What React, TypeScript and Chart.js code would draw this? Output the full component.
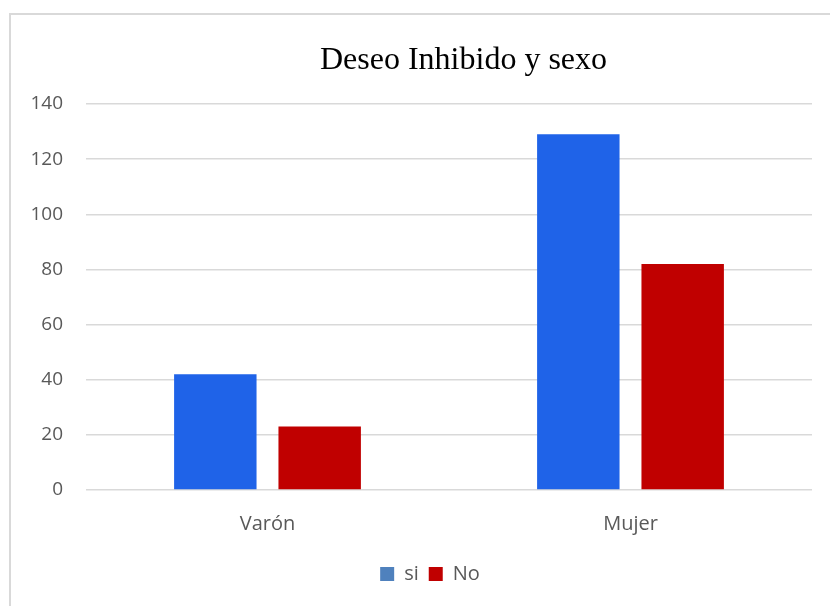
import React, { useEffect, useRef } from "react";
import { Chart, registerables } from "chart.js";

Chart.register(...registerables);

const categories = ["Varón", "Mujer"];
const seriesNames = ["si", "No"];
const siValues = [42, 129];
const noValues = [23, 82];
const yTicks = [0, 20, 40, 60, 80, 100, 120, 140];
const titleText = "Deseo Inhibido y sexo";

const titlePlugin = {
  id: "customTitle",
  afterLayout(chart: any) {
    const lg = chart.legend;
    if (lg) {
      lg.left += 18.5;
      lg.right += 18.5;
    }
  },
  afterDraw(chart: any) {
    const { ctx, chartArea } = chart;
    ctx.save();
    ctx.font = "32px 'Liberation Serif', 'Times New Roman', serif";
    ctx.fillStyle = "#000000";
    ctx.textAlign = "center";
    ctx.textBaseline = "alphabetic";
    const x = chartArea.left + (chartArea.right - chartArea.left) * 0.52;
    ctx.fillText(titleText, x, 54);
    ctx.restore();
  },
};

export default function App() {
  const ref = useRef<HTMLCanvasElement | null>(null);
  useEffect(() => {
    document.body.style.overflow = "hidden";
    if (!ref.current) return;
    const font = { family: "'Open Sans', sans-serif", size: 20 };
    const yFont = { family: "'Open Sans', sans-serif", size: 19 };
    const chart = new Chart(ref.current, {
      type: "bar",
      data: {
        labels: categories,
        datasets: [
          {
            label: seriesNames[0],
            data: siValues,
            backgroundColor: "#1F63E8",
            categoryPercentage: 0.575,
            barPercentage: 0.79,
          },
          {
            label: seriesNames[1],
            data: noValues,
            backgroundColor: "#C00000",
            categoryPercentage: 0.575,
            barPercentage: 0.79,
          },
        ],
      },
      options: {
        animation: false,
        responsive: false,
        maintainAspectRatio: false,
        layout: { padding: { top: 89, left: 0, right: 18, bottom: 12 } },
        plugins: {
          title: { display: false },
          tooltip: { enabled: false },
          legend: {
            position: "bottom",
            labels: {
              font,
              color: "#595959",
              boxWidth: 14,
              boxHeight: 14,
              padding: 10,
              generateLabels: () => [
                { text: seriesNames[0], fillStyle: "#4F81BD", strokeStyle: "#4F81BD", lineWidth: 0, datasetIndex: 0, fontColor: "#595959" },
                { text: seriesNames[1], fillStyle: "#C00000", strokeStyle: "#C00000", lineWidth: 0, datasetIndex: 1, fontColor: "#595959" },
              ],
            },
          },
        },
        scales: {
          x: {
            grid: { display: false, drawTicks: false },
            border: { display: false },
            ticks: { font, color: "#595959", padding: 22 },
            afterFit: (scale: any) => {
              scale.height = 64;
            },
          },
          y: {
            min: 0,
            max: 140,
            afterBuildTicks: (scale: any) => {
              scale.ticks = yTicks.map((v) => ({ value: v }));
            },
            grid: { color: "#D9D9D9", lineWidth: 1.5, drawTicks: false },
            border: { display: false },
            ticks: { font: yFont, color: "#595959", padding: 23 },
            afterFit: (scale: any) => {
              scale.width = 75;
            },
          },
        },
      },
      plugins: [titlePlugin],
    });
    return () => chart.destroy();
  }, []);
  return (
    <div
      style={{
        position: "absolute",
        left: 9,
        top: 13,
        width: 819,
        height: 593,
        borderLeft: "2px solid #D9D9D9",
        borderTop: "2px solid #D9D9D9",
        background: "#fff",
      }}
    >
      <canvas ref={ref} width={819} height={591} style={{ display: "block" }} />
    </div>
  );
}
